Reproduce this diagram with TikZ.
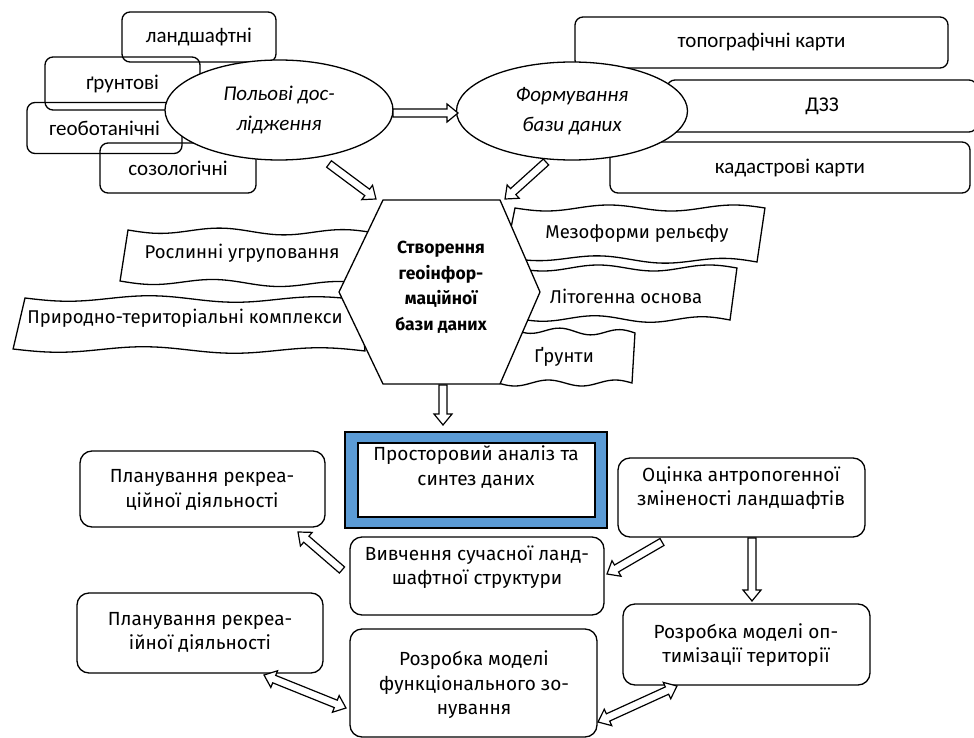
\documentclass[tikz,border=0pt]{standalone}
\usepackage{fontspec}
\setmainfont{Fira Sans}
\newfontfamily\calfont{Carlito}
\usetikzlibrary{shapes.geometric,arrows.meta,calc}
\definecolor{frameblue}{HTML}{5B9BD5}
\newcommand{\tapeshape}[8]{%
  \filldraw[tapeline] plot[domain=0:1,samples=41,variable=\t,smooth] ({#1+\t*(#3-#1)},{#2+\t*(#4-#2)+3*sin(\t*720)})
    -- plot[domain=1:0,samples=41,variable=\t,smooth] ({#7+\t*(#5-#7)},{#8+\t*(#6-#8)+3*sin(\t*720)}) -- cycle;}
% hollow block arrow from #1 to #2
\newcommand{\blockarrow}[2]{%
  \coordinate (bah) at ($(#2)!11pt!(#1)$);
  \filldraw[arrowline] ($(#1)!4pt!90:(#2)$) -- ($(bah)!4pt!90:(#2)$) -- ($(bah)!9pt!90:(#2)$) -- (#2)
    -- ($(bah)!9pt!-90:(#2)$) -- ($(bah)!4pt!-90:(#2)$) -- ($(#1)!4pt!-90:(#2)$) -- cycle;}
% hollow double-headed block arrow between #1 and #2
\newcommand{\blockarrowboth}[2]{%
  \coordinate (bah) at ($(#2)!11pt!(#1)$);
  \coordinate (bat) at ($(#1)!11pt!(#2)$);
  \filldraw[arrowline] (#1) -- ($(bat)!9pt!90:(#2)$) -- ($(bat)!4pt!90:(#2)$) -- ($(bah)!4pt!90:(#2)$) -- ($(bah)!9pt!90:(#2)$) -- (#2)
    -- ($(bah)!9pt!-90:(#2)$) -- ($(bah)!4pt!-90:(#2)$) -- ($(bat)!4pt!-90:(#2)$) -- ($(bat)!9pt!-90:(#2)$) -- cycle;}
\begin{document}
\begin{tikzpicture}[x=1pt,y=-1pt,
  topbox/.style={draw, line width=1.3pt, rounded corners=8pt, inner sep=0pt, font=\calfont\fontsize{21}{24}\selectfont},
  ell/.style={draw, fill=white, ellipse, line width=1.3pt, inner sep=0pt, align=center, font=\calfont\itshape\fontsize{21}{30}\selectfont},
  tapeline/.style={draw=black, fill=white, line width=1.3pt},
  tapetext/.style={font=\fontsize{18.5}{22}\selectfont},
  rbox/.style={draw, line width=1.3pt, rounded corners=12pt, inner sep=0pt},
  btext/.style={align=center, inner sep=0pt, font=\fontsize{19}{24.5}\selectfont},
  arrowline/.style={draw=black, fill=white, line width=1.2pt, line join=miter}]
\useasboundingbox (0,0) rectangle (974,738);

% top-left boxes (unfilled)
\node[topbox, minimum width=154pt, minimum height=50pt] (landsh) at (199,37) {ландшафтні};
\node[topbox, minimum width=155pt, minimum height=53pt] (grunt) at (122.5,83.5) {ґрунтові};
\node[topbox, minimum width=155pt, minimum height=51pt] (geobot) at (104.5,128) {геоботанічні};
\node[topbox, minimum width=156pt, minimum height=50pt] (sozol) at (178,168) {созологічні};

% top-right boxes
\node[topbox, fill=white, minimum width=373pt, minimum height=51pt] (topo) at (761.5,42.5) {топографічні карти};
\node[topbox, fill=white, minimum width=310pt, minimum height=52pt, text width=310pt, align=center] (dzz) at (822,106) {ДЗЗ};
\node[topbox, fill=white, minimum width=360pt, minimum height=51pt] (kadastr) at (790,167.5) {кадастрові карти};

% ellipses
\node[ell, minimum width=228pt, minimum height=100pt] (field) at (279,110) {Польові дос-\\лідження};
\node[ell, minimum width=231pt, minimum height=98pt] (form) at (572,111) {Формування\\бази даних};

% banners left
\tapeshape{128}{230}{375}{233}{372}{285}{120}{281}
\node[tapetext] (rosl) at (242,253) {Рослинні угруповання};
\tapeshape{25}{298}{360}{300}{365}{351}{13}{349}
\node[tapetext] (ptk) at (185,318) {Природно-територіальні комплекси};
% banners right
\tapeshape{515}{208}{765}{208}{757}{262}{505}{257}
\node[tapetext] (mezo) at (637,234) {Мезоформи рельєфу};
\tapeshape{515}{268}{737}{268}{730}{320}{515}{318}
\node[tapetext] (lito) at (626,296) {Літогенна основа};
\tapeshape{515}{330}{635}{333}{632}{383}{498}{383}
\node[tapetext] (grunty) at (564,357) {Ґрунти};

% hexagon
\filldraw[draw=black, fill=white, line width=1.3pt] (383,200) -- (500,200) -- (540,292) -- (500,384) -- (383,384) -- (339,292) -- cycle;
\node[align=center, inner sep=0pt, font=\bfseries\fontsize{17.5}{25.5}\selectfont] (hex) at (441,287) {Створення\\геоінфор-\\маційної\\бази даних};

% spatial analysis frame
\filldraw[draw=black, fill=frameblue, line width=1.3pt] (345,432) rectangle (607,528);
\node[draw, fill=white, line width=1.8pt, minimum width=237pt, minimum height=74pt, inner sep=0pt] (prost) at (476.5,480) {};
\node[btext] (prostt) at (476,467) {Просторовий аналіз та\\синтез даних};

% bottom boxes
\node[rbox, minimum width=245pt, minimum height=76pt] (plan1) at (202.5,489) {};
\node[btext] (plan1t) at (202,490) {Планування рекреа-\\ційної діяльності};
\node[rbox, minimum width=254pt, minimum height=78pt] (vyv) at (477,576) {};
\node[btext] (vyvt) at (477,567) {Вивчення сучасної ланд-\\шафтної структури};
\node[rbox, minimum width=247pt, minimum height=79pt] (otsin) at (741.5,497.5) {};
\node[btext] (otsint) at (741,488) {Оцінка антропогенної\\зміненості ландшафтів};
\node[rbox, minimum width=246pt, minimum height=80pt] (plan2) at (200,633) {};
\node[btext] (plan2t) at (200,632.5) {Планування рекреа-\\ійної діяльності};
\node[rbox, minimum width=247pt, minimum height=108pt] (funk) at (473.5,683) {};
\node[btext] (funkt) at (474,685) {Розробка моделі\\функціонального зо-\\нування};
\node[rbox, minimum width=247pt, minimum height=81pt] (opt) at (746.5,644.5) {};
\node[btext] (optt) at (746,645) {Розробка моделі оп-\\тимізації території};

% arrow end points
\coordinate (a1s) at (393,113); \coordinate (a1e) at (458,113);
\coordinate (a2s) at (329,164); \coordinate (a2e) at (376,199);
\coordinate (a3s) at (546,162); \coordinate (a3e) at (505,199);
\coordinate (a4s) at (443,385); \coordinate (a4e) at (443,425);
\coordinate (a5s) at (342,570); \coordinate (a5e) at (298,532);
\coordinate (a6s) at (662,542); \coordinate (a6e) at (607,574);
\coordinate (a7s) at (752,538); \coordinate (a7e) at (752,601);
\coordinate (a8s) at (264,675); \coordinate (a8e) at (346,708);
\coordinate (a9s) at (598,722); \coordinate (a9e) at (677,686);

\blockarrow{a1s}{a1e}
\blockarrow{a2s}{a2e}
\blockarrow{a3s}{a3e}
\blockarrow{a4s}{a4e}
\blockarrow{a5s}{a5e}
\blockarrow{a6s}{a6e}
\blockarrow{a7s}{a7e}
\blockarrowboth{a8s}{a8e}
\blockarrowboth{a9s}{a9e}
\end{tikzpicture}
\end{document}
